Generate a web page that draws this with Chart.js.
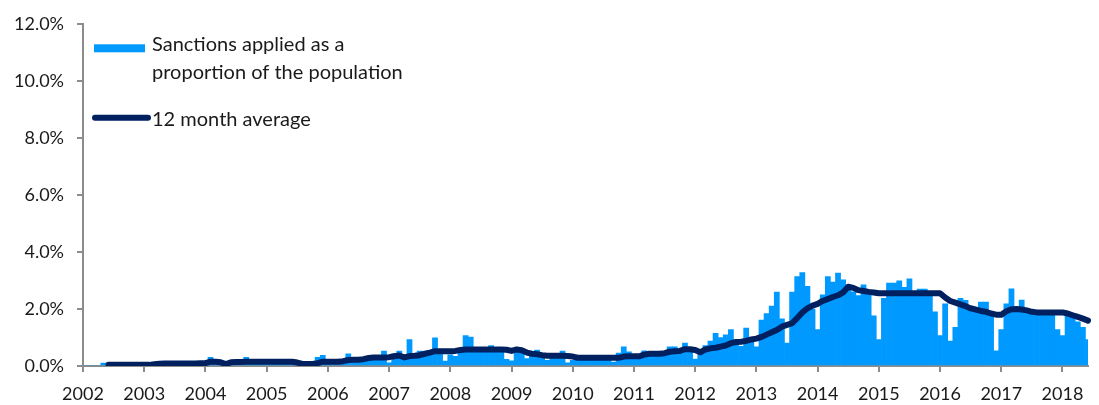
<!DOCTYPE html>
<html>
<head>
<meta charset="utf-8">
<title>Sanctions applied</title>
<script src="https://cdn.jsdelivr.net/npm/chart.js@4.4.1/dist/chart.umd.min.js"></script>
<style>
  html, body { margin: 0; padding: 0; background: #fff; overflow: hidden; }
  #wrap { position: relative; width: 1099px; height: 405px; }
</style>
</head>
<body>
<div id="wrap"><canvas id="chart"></canvas></div>
<script>
// Tick labels (one per January) and month categories
const yearLabels = ["2002", "2003", "2004", "2005", "2006", "2007", "2008", "2009",
  "2010", "2011", "2012", "2013", "2014", "2015", "2016", "2017", "2018"];
const monthNames = ["Jan", "Feb", "Mar", "Apr", "May", "Jun", "Jul", "Aug", "Sep", "Oct", "Nov", "Dec"];

// Sanctions applied as a proportion of the population (%), monthly, Jan 2002 - Jun 2018
const sanctions = [
  0, 0, 0, 0, 0.10, 0.04, 0.04, 0.05, 0.04, 0.05, 0.04, 0.04,          // 2002
  0.05, 0.04, 0.06, 0.08, 0.09, 0.08, 0.10, 0.09, 0.10, 0.09, 0.10, 0.10, // 2003
  0.12, 0.30, 0.14, 0.06, 0.10, 0.14, 0.15, 0.15, 0.30, 0.15, 0.14, 0.15, // 2004
  0.15, 0.14, 0.16, 0.15, 0.15, 0.16, 0.12, 0.06, 0.05, 0.06, 0.30, 0.37, // 2005
  0.15, 0.14, 0.16, 0.15, 0.43, 0.20, 0.22, 0.25, 0.28, 0.30, 0.30, 0.52, // 2006
  0.11, 0.43, 0.52, 0.35, 0.93, 0.35, 0.52, 0.50, 0.55, 0.99, 0.55, 0.17, // 2007
  0.39, 0.34, 0.50, 1.07, 1.01, 0.50, 0.55, 0.55, 0.72, 0.55, 0.58, 0.23, // 2008
  0.18, 0.60, 0.50, 0.26, 0.35, 0.56, 0.37, 0.20, 0.30, 0.30, 0.52, 0.11, // 2009
  0.20, 0.28, 0.30, 0.28, 0.30, 0.28, 0.30, 0.28, 0.14, 0.45, 0.67, 0.50, // 2010
  0.35, 0.35, 0.53, 0.40, 0.45, 0.45, 0.45, 0.67, 0.67, 0.60, 0.80, 0.55, // 2011
  0.24, 0.50, 0.72, 0.87, 1.15, 1.00, 1.09, 1.28, 0.90, 0.69, 1.33, 0.85, // 2012
  0.67, 1.61, 1.84, 2.10, 2.59, 1.65, 0.80, 2.59, 3.14, 3.28, 2.79, 2.00, // 2013
  1.28, 2.50, 3.14, 2.94, 3.26, 3.02, 2.79, 2.60, 2.47, 2.85, 2.60, 1.76, // 2014
  0.93, 2.37, 2.91, 2.91, 2.99, 2.76, 3.06, 2.60, 2.70, 2.70, 2.60, 1.90, // 2015
  1.07, 2.18, 0.87, 1.36, 2.37, 2.30, 2.10, 2.00, 2.24, 2.24, 1.75, 0.53, // 2016
  1.28, 2.18, 2.71, 2.00, 2.31, 2.00, 1.95, 1.95, 1.90, 1.90, 1.90, 1.28, // 2017
  1.07, 1.90, 1.75, 1.55, 1.36, 0.93                                      // 2018
];

// 12 month average (%)
const average12 = [
  null, null, null, null, null, 0.04, 0.04, 0.04, 0.04, 0.04, 0.04, 0.04, // 2002
  0.04, 0.04, 0.06, 0.08, 0.09, 0.09, 0.09, 0.09, 0.09, 0.09, 0.09, 0.10, // 2003
  0.10, 0.15, 0.15, 0.13, 0.07, 0.13, 0.14, 0.14, 0.15, 0.15, 0.15, 0.15, // 2004
  0.15, 0.15, 0.15, 0.15, 0.15, 0.15, 0.12, 0.07, 0.07, 0.07, 0.10, 0.15, // 2005
  0.15, 0.15, 0.15, 0.17, 0.21, 0.22, 0.22, 0.24, 0.28, 0.30, 0.30, 0.30, // 2006
  0.31, 0.34, 0.37, 0.30, 0.35, 0.36, 0.38, 0.43, 0.47, 0.52, 0.52, 0.52, // 2007
  0.52, 0.53, 0.56, 0.58, 0.58, 0.58, 0.58, 0.58, 0.58, 0.58, 0.58, 0.57, // 2008
  0.53, 0.58, 0.55, 0.47, 0.43, 0.41, 0.38, 0.36, 0.36, 0.36, 0.36, 0.35, // 2009
  0.33, 0.29, 0.29, 0.29, 0.29, 0.29, 0.29, 0.29, 0.29, 0.29, 0.33, 0.34, // 2010
  0.34, 0.34, 0.40, 0.43, 0.43, 0.43, 0.45, 0.50, 0.52, 0.53, 0.59, 0.59, // 2011
  0.56, 0.48, 0.58, 0.62, 0.64, 0.68, 0.72, 0.80, 0.84, 0.85, 0.88, 0.93, // 2012
  0.96, 1.02, 1.10, 1.18, 1.26, 1.38, 1.44, 1.50, 1.68, 1.88, 2.02, 2.12, // 2013
  2.18, 2.28, 2.35, 2.42, 2.48, 2.58, 2.78, 2.74, 2.66, 2.63, 2.60, 2.58, // 2014
  2.55, 2.55, 2.55, 2.55, 2.55, 2.55, 2.55, 2.55, 2.55, 2.55, 2.55, 2.55, // 2015
  2.55, 2.40, 2.28, 2.22, 2.16, 2.10, 2.02, 1.98, 1.93, 1.90, 1.84, 1.80, // 2016
  1.80, 1.92, 1.99, 2.00, 1.98, 1.95, 1.90, 1.88, 1.88, 1.88, 1.88, 1.88, // 2017
  1.88, 1.84, 1.78, 1.72, 1.66, 1.59                                      // 2018
];

const months = [];
yearLabels.forEach((y) => monthNames.forEach((m) => months.push(m + " " + y)));
months.length = sanctions.length;

const barBlue = "#0099ff";
const lineNavy = "#002060";
const axisGray = "#8c8c8c";
const textColor = "#1a1a1a";
const fontFamily = "Lato, 'Open Sans', sans-serif";

// Legend drawn inside the plot, top left, like the original
const insideLegend = {
  id: "insideLegend",
  afterDraw(chart) {
    const { ctx, chartArea } = chart;
    const x0 = chartArea.left + 11;
    const y0 = chartArea.top;
    ctx.save();
    ctx.fillStyle = barBlue;
    ctx.fillRect(x0, y0 + 20.5, 51, 8);

    ctx.strokeStyle = lineNavy;
    ctx.lineWidth = 6;
    ctx.lineCap = "round";
    ctx.beginPath();
    ctx.moveTo(x0 + 1, y0 + 94);
    ctx.lineTo(x0 + 54, y0 + 94);
    ctx.stroke();

    ctx.fillStyle = textColor;
    ctx.font = "20px " + fontFamily;
    ctx.textBaseline = "alphabetic";
    ctx.textAlign = "left";
    ctx.fillText("Sanctions applied as a", x0 + 58, y0 + 27.5);
    ctx.fillText("proportion of the population", x0 + 58, y0 + 55.5);
    ctx.fillText("12 month average", x0 + 58, y0 + 102.5);
    ctx.restore();
  },
};

new Chart(document.getElementById("chart"), {
  type: "bar",
  data: {
    labels: months,
    datasets: [
      {
        type: "line",
        label: "12 month average",
        data: average12,
        borderColor: lineNavy,
        backgroundColor: lineNavy,
        borderWidth: 6,
        borderJoinStyle: "round",
        borderCapStyle: "round",
        pointRadius: 0,
        tension: 0,
        order: 0,
      },
      {
        label: "Sanctions applied as a proportion of the population",
        data: sanctions,
        backgroundColor: barBlue,
        borderWidth: 0,
        barPercentage: 1,
        categoryPercentage: 1,
        order: 1,
      },
    ],
  },
  options: {
    responsive: true,
    maintainAspectRatio: false,
    animation: false,
    layout: { padding: { top: 19, left: 0, right: 0, bottom: 0 } },
    plugins: {
      legend: { display: false },
      tooltip: { enabled: false },
    },
    scales: {
      x: {
        type: "category",
        offset: false,
        grid: {
          offset: false,
          drawOnChartArea: false,
          drawTicks: true,
          tickLength: 6,
          lineWidth: 2,
          color: (c) => (c.index % 12 === 0 ? axisGray : "rgba(0,0,0,0)"),
        },
        border: { color: axisGray, width: 2 },
        ticks: {
          autoSkip: false,
          maxRotation: 0,
          minRotation: 0,
          padding: 11,
          color: textColor,
          font: { family: fontFamily, size: 18 },
          callback: (v, i) => (i % 12 === 0 ? yearLabels[i / 12] : ""),
        },
        afterFit: (s) => { s.height = 39; },
      },
      y: {
        min: 0,
        max: 12,
        grid: {
          drawOnChartArea: false,
          drawTicks: true,
          tickLength: 6,
          lineWidth: 2,
          color: axisGray,
        },
        border: { color: axisGray, width: 2 },
        ticks: {
          stepSize: 2,
          padding: 13,
          color: textColor,
          font: { family: fontFamily, size: 18 },
          callback: (v) => v.toFixed(1) + "%",
        },
        afterFit: (s) => { s.width = 83; },
      },
    },
  },
  plugins: [insideLegend],
});
</script>
</body>
</html>
